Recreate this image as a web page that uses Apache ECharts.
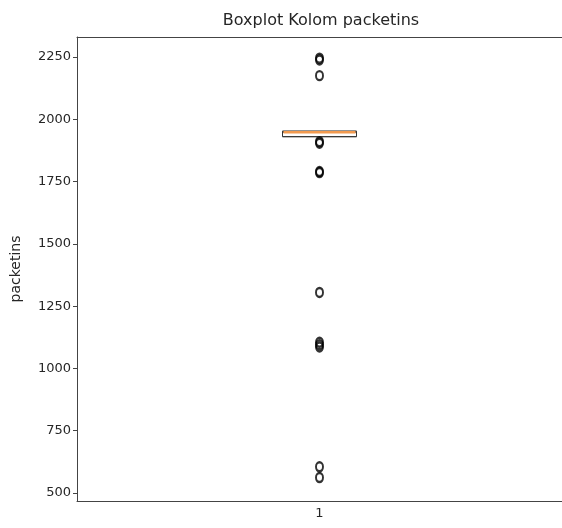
<!DOCTYPE html>
<html>
<head>
<meta charset="utf-8">
<script src="https://cdn.jsdelivr.net/npm/echarts@6/dist/echarts.min.js"></script>
<style>
  html, body { margin: 0; padding: 0; background: #fff; }
  #chart { width: 562px; height: 528px; }
</style>
</head>
<body>
<div id="chart"></div>
<script>
const categories = ['1']
// min, Q1, median, Q3, max
const boxStats = [1930, 1930, 1948, 1952, 1952]
const outliers = [2245, 2238, 2175, 1910, 1904, 1790, 1786, 1305, 1105, 1095, 1086, 605, 562]
const yTicks = [500, 750, 1000, 1250, 1500, 1750, 2000, 2250]

const font = 'DejaVu Sans'
const axisColor = '#444'
const chart = echarts.init(document.getElementById('chart'))

chart.setOption({
  animation: false,
  title: {
    text: 'Boxplot Kolom packetins',
    left: 316,
    top: 8,
    textAlign: 'center',
    textStyle: { fontFamily: font, fontSize: 16, fontWeight: 'normal', color: '#262626' }
  },
  grid: { left: 77, top: 37, width: 486, bottom: 27 },
  xAxis: [
    {
      type: 'category',
      data: categories,
      axisLine: { lineStyle: { color: axisColor } },
      axisTick: { alignWithLabel: true, length: 4, lineStyle: { color: axisColor } },
      axisLabel: { fontFamily: font, fontSize: 13, color: '#262626', margin: 6 }
    },
    {
      type: 'category',
      position: 'top',
      data: categories,
      axisLine: { lineStyle: { color: axisColor } },
      axisTick: { show: false },
      axisLabel: { show: false }
    }
  ],
  yAxis: {
    type: 'value',
    min: 468,
    max: 2330,
    name: 'packetins',
    nameLocation: 'middle',
    nameGap: 54,
    nameTextStyle: { fontFamily: font, fontSize: 14, color: '#262626' },
    splitLine: { show: false },
    axisLine: { show: true, lineStyle: { color: axisColor } },
    axisTick: { show: true, length: 4, customValues: yTicks, lineStyle: { color: axisColor } },
    axisLabel: {
      fontFamily: font, fontSize: 13, color: '#262626', margin: 6,
      customValues: yTicks,
      formatter: v => String(v)
    }
  },
  series: [
    {
      type: 'boxplot',
      data: [boxStats],
      boxWidth: [74, 74],
      itemStyle: { color: 'rgba(0,0,0,0)', borderColor: '#333', borderWidth: 1 }
    },
    {
      type: 'custom',
      data: [[0, boxStats[2]]],
      renderItem: (params, api) => {
        const p = api.coord([api.value(0), api.value(1)])
        return {
          type: 'line',
          shape: { x1: p[0] - 36, y1: p[1], x2: p[0] + 36, y2: p[1] },
          style: { stroke: '#f29a4f', lineWidth: 2.5 }
        }
      },
      z: 3
    },
    {
      type: 'scatter',
      data: outliers.map(v => [0, v]),
      symbol: 'circle',
      symbolSize: [7, 9],
      itemStyle: { color: 'rgba(0,0,0,0)', borderColor: '#000', borderWidth: 2.2 },
      z: 4
    }
  ]
})
</script>
</body>
</html>
